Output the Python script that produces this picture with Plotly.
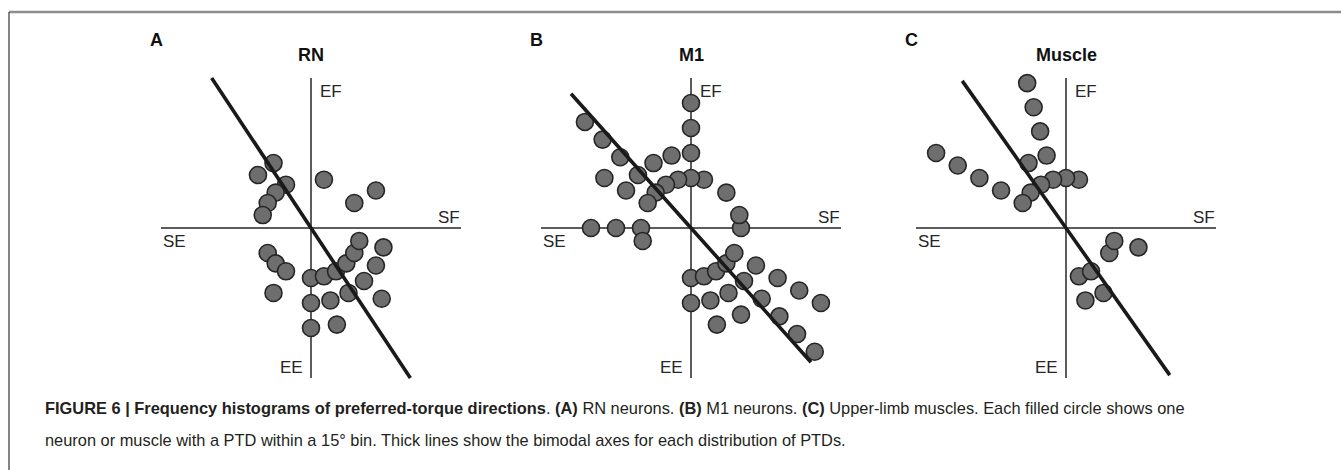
import plotly.graph_objects as go

# ---- data: counts of preferred-torque directions per 15-degree bin ----
# angle convention: 0 = SF (right), 90 = EF (up), 180 = SE (left), 270 = EE (down)
rn_bins = [30, 75, 120, 135, 150, 165, 210, 225, 240, 270, 285, 300, 315, 330, 345]
rn_counts = [2, 1, 2, 2, 1, 1, 1, 1, 2, 3, 3, 2, 3, 2, 2]

m1_bins = [0, 15, 45, 75, 90, 105, 120, 135, 150, 180, 195, 270, 285, 300, 315, 330]
m1_counts = [1, 1, 1, 1, 4, 2, 2, 5, 3, 3, 1, 2, 3, 3, 6, 5]

mus_bins = [75, 90, 105, 120, 135, 150, 285, 300, 330, 345]
mus_counts = [1, 1, 5, 2, 1, 5, 2, 2, 1, 2]

# bimodal axis angle (degrees) for each panel
rn_axis = 123.5
m1_axis = 131.8
mus_axis = 125.2

panel_titles = ["RN", "M1", "Muscle"]
panel_letters = ["A", "B", "C"]
axis_labels = {"EF": "EF", "SF": "SF", "SE": "SE", "EE": "EE"}

caption_line1 = ("<b>FIGURE 6 | Frequency histograms of preferred-torque directions</b>. "
                 "<b>(A)</b> RN neurons. <b>(B)</b> M1 neurons. <b>(C)</b> Upper-limb muscles. "
                 "Each filled circle shows one")
caption_line2 = ("neuron or muscle with a PTD within a 15\u00b0 bin. Thick lines show the "
                 "bimodal axes for each distribution of PTDs.")

# ---- layout constants ----
W, H = 1341, 470
PX_PER_UNIT = 25.0
R_MAX = 7.4
AXIS_R = 6.0
FIRST_RING = 2
centers = [(311, 228), (691, 228), (1066, 228)]

FILL = "#6e6e6e"
EDGE = "#262626"
INK = "#262626"
FONT = "Liberation Sans, Arial, sans-serif"

fig = go.Figure()

panels = [
    (rn_bins, rn_counts, rn_axis),
    (m1_bins, m1_counts, m1_axis),
    (mus_bins, mus_counts, mus_axis),
]

layout_polars = {}
annotations = []
for i, ((bins, counts, ax_ang), (cx, cy)) in enumerate(zip(panels, centers)):
    pname = "polar" if i == 0 else f"polar{i+1}"
    sub = "polar" if i == 0 else f"polar{i+1}"
    rad_px = R_MAX * PX_PER_UNIT
    dom_x = [(cx - rad_px) / W, (cx + rad_px) / W]
    dom_y = [(H - cy - rad_px) / H, (H - cy + rad_px) / H]
    layout_polars[pname] = dict(
        domain=dict(x=dom_x, y=dom_y),
        bgcolor="rgba(0,0,0,0)",
        radialaxis=dict(range=[0, R_MAX], visible=False, showgrid=False,
                        showline=False, showticklabels=False, ticks=""),
        angularaxis=dict(visible=False, showgrid=False, showline=False,
                         showticklabels=False, ticks="", rotation=0,
                         direction="counterclockwise"),
    )
    # cross axes
    fig.add_trace(go.Scatterpolar(
        r=[AXIS_R, 0, AXIS_R], theta=[0, 0, 180], mode="lines",
        line=dict(color=INK, width=1.5), subplot=sub, showlegend=False,
        hoverinfo="skip"))
    fig.add_trace(go.Scatterpolar(
        r=[AXIS_R, 0, AXIS_R], theta=[90, 90, 270], mode="lines",
        line=dict(color=INK, width=1.5), subplot=sub, showlegend=False,
        hoverinfo="skip"))
    # stacked circles
    rs, ths = [], []
    for b, c in zip(bins, counts):
        for k in range(c):
            rs.append(FIRST_RING + k)
            ths.append(b)
    fig.add_trace(go.Scatterpolar(
        r=rs, theta=ths, mode="markers",
        marker=dict(size=17, color=FILL, line=dict(color=EDGE, width=1.6)),
        subplot=sub, showlegend=False, cliponaxis=False))
    # bimodal axis
    fig.add_trace(go.Scatterpolar(
        r=[7.2, 0, 7.2], theta=[ax_ang, ax_ang, ax_ang + 180], mode="lines",
        line=dict(color="#1a1a1a", width=3.6), subplot=sub, showlegend=False,
        cliponaxis=False, hoverinfo="skip"))

    def px(x, y, text, xanchor, size=17, color=INK):
        annotations.append(dict(
            x=x / W, y=1 - y / H, xref="paper", yref="paper", text=text,
            showarrow=False, xanchor=xanchor, yanchor="middle",
            font=dict(family=FONT, size=size, color=color)))

    px(cx + 7, cy - 137, axis_labels["EF"], "left")
    px(cx + 151, cy - 11, axis_labels["SF"], "right")
    px(cx - 150, cy + 14, axis_labels["SE"], "left")
    px(cx - 6, cy + 139, axis_labels["EE"], "right")
    px(cx, cy - 173, f"<b>{panel_titles[i]}</b>", "center", size=18, color="#111")
    px(cx - 163, cy - 188, f"<b>{panel_letters[i]}</b>", "left", size=18, color="#111")

annotations.append(dict(x=43 / W, y=1 - 408 / H, xref="paper", yref="paper",
                        text=caption_line1, showarrow=False, xanchor="left",
                        yanchor="middle",
                        font=dict(family=FONT, size=16.4, color="#231f20")))
annotations.append(dict(x=43 / W, y=1 - 440 / H, xref="paper", yref="paper",
                        text=caption_line2, showarrow=False, xanchor="left",
                        yanchor="middle",
                        font=dict(family=FONT, size=16.4, color="#231f20")))

shapes = [
    dict(type="line", xref="paper", yref="paper", x0=9 / W, x1=1, y0=1 - 12 / H,
         y1=1 - 12 / H, line=dict(color="#8c8c8c", width=2.5)),
    dict(type="line", xref="paper", yref="paper", x0=9 / W, x1=9 / W, y0=0,
         y1=1 - 12 / H, line=dict(color="#333333", width=1.2)),
]

fig.update_layout(
    width=W, height=H, margin=dict(l=0, r=0, t=0, b=0),
    paper_bgcolor="white", plot_bgcolor="white",
    showlegend=False, annotations=annotations, shapes=shapes,
    **layout_polars,
)

fig.write_html("out.html")
